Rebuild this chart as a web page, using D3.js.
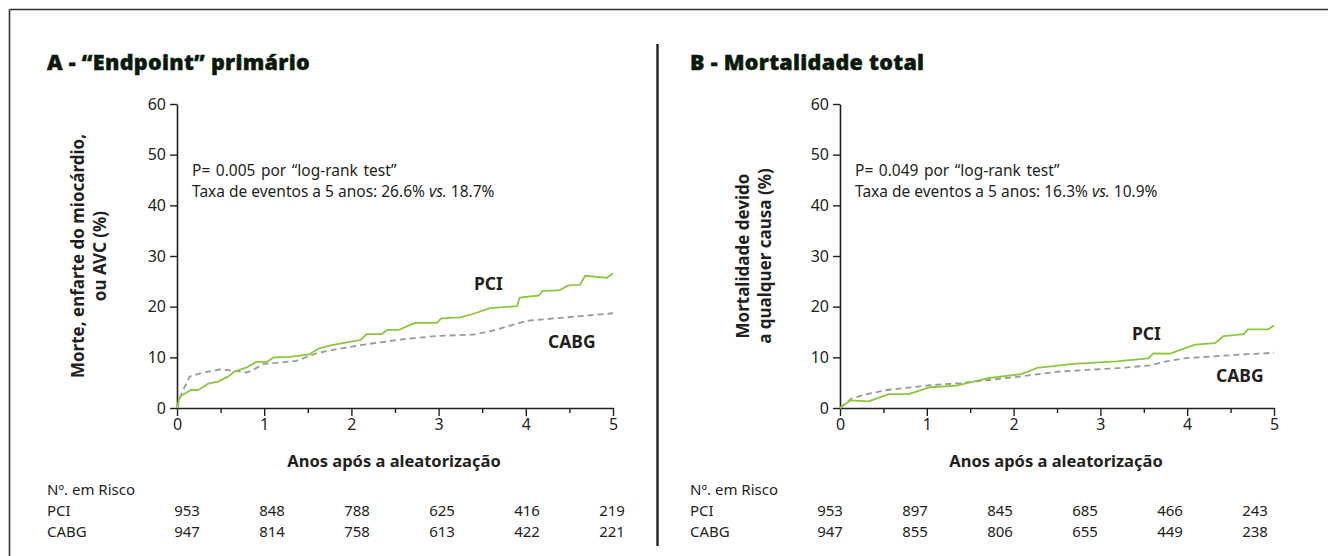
<!DOCTYPE html>
<html>
<head>
<meta charset="utf-8">
<script src="https://cdn.jsdelivr.net/npm/d3@7"></script>
<style>
  html, body { margin: 0; padding: 0; background: #fff; }
  svg { display: block; }
  .tick text { font-family: "Noto Sans", sans-serif; }
</style>
</head>
<body>
<svg id="chart" width="1328" height="556"></svg>
<script>
// Years after randomisation (x) and cumulative event rate in % (y)
const pciPrimaryYears  = [0, 0.03, 0.165, 0.24, 0.356, 0.47, 0.586, 0.66, 0.8, 0.91, 1.03, 1.11, 1.29, 1.52, 1.62, 1.75, 1.93, 2.10, 2.18, 2.35, 2.41, 2.54, 2.73, 2.98, 3.03, 3.25, 3.42, 3.59, 3.90, 3.93, 4.15, 4.19, 4.38, 4.49, 4.62, 4.68, 4.93, 5.0];
const pciPrimaryRate   = [0, 2.2, 3.6, 3.5, 4.8, 5.2, 6.2, 7.2, 8.0, 9.1, 9.1, 10.0, 10.1, 10.6, 11.7, 12.3, 12.9, 13.4, 14.6, 14.6, 15.4, 15.4, 16.8, 16.8, 17.7, 17.9, 18.7, 19.7, 20.1, 21.8, 22.2, 23.1, 23.2, 24.2, 24.3, 26.1, 25.7, 26.6];
const cabgPrimaryYears = [0, 0.05, 0.145, 0.3, 0.49, 0.64, 0.8, 0.87, 0.99, 1.14, 1.37, 1.6, 1.83, 2.14, 2.6, 2.98, 3.40, 3.63, 4.01, 4.47, 5.0];
const cabgPrimaryRate  = [0, 2.8, 6.2, 7.0, 7.6, 7.4, 7.0, 7.5, 8.7, 8.9, 9.3, 10.8, 11.6, 12.5, 13.6, 14.2, 14.5, 15.3, 17.2, 17.9, 18.7];

const pciDeathYears  = [0, 0.12, 0.33, 0.56, 0.79, 1.04, 1.34, 1.50, 1.71, 2.09, 2.27, 2.69, 3.19, 3.55, 3.61, 3.80, 4.09, 4.32, 4.42, 4.65, 4.70, 4.93, 5.0];
const pciDeathRate   = [0, 1.5, 1.3, 2.75, 2.75, 4.1, 4.4, 5.05, 5.9, 6.7, 7.9, 8.7, 9.2, 9.8, 10.8, 10.75, 12.5, 12.8, 14.2, 14.6, 15.5, 15.5, 16.3];
const cabgDeathYears = [0, 0.13, 0.31, 0.54, 1.04, 1.38, 2.07, 2.53, 3.23, 3.57, 3.76, 3.96, 4.57, 5.0];
const cabgDeathRate  = [0, 1.85, 2.75, 3.55, 4.5, 4.9, 6.2, 7.2, 7.9, 8.4, 9.2, 9.8, 10.5, 10.9];

// Numbers at risk at 0..5 years
const riskYears        = [0, 1, 2, 3, 4, 5];
const pciRiskPrimary   = [953, 848, 788, 625, 416, 219];
const cabgRiskPrimary  = [947, 814, 758, 613, 422, 221];
const pciRiskDeath     = [953, 897, 845, 685, 466, 243];
const cabgRiskDeath    = [947, 855, 806, 655, 449, 238];

const yTicks = [0, 10, 20, 30, 40, 50, 60];
const xTicks = [0, 1, 2, 3, 4, 5];
const xMinorTicks = [0.5, 1.5, 2.5, 3.5, 4.5];

const GREEN = "#8dc63f";
const GREY = "#9a9a9a";
const INK = "#231f20";
const TITLE = "#0a1a0a";
const FONT = "'Noto Sans', sans-serif";

const svg = d3.select("#chart");

// frame: top and left rules plus the divider between panels
svg.append("line").attr("x1", 9.5).attr("x2", 1328).attr("y1", 9.5).attr("y2", 9.5)
  .attr("stroke", "#333").attr("stroke-width", 1.6);
svg.append("line").attr("x1", 9.5).attr("x2", 9.5).attr("y1", 9.5).attr("y2", 556)
  .attr("stroke", "#333").attr("stroke-width", 1.6);
svg.append("line").attr("x1", 657.5).attr("x2", 657.5).attr("y1", 44).attr("y2", 546)
  .attr("stroke", "#222").attr("stroke-width", 2.4);

const panels = [
  {
    title: "A - \u201cEndpoint\u201d primário",
    left: 47, x0: 177, x1: 613,
    yLabel: ["Morte, enfarte do miocárdio,", "ou AVC (%)"], yLabelX: 84,
    note1: "P= 0.005 por \u201clog-rank test\u201d",
    note2a: "Taxa de eventos a 5 anos: 26.6% ", note2b: "18.7%",
    pci: [pciPrimaryYears, pciPrimaryRate], cabg: [cabgPrimaryYears, cabgPrimaryRate],
    pciLabel: [474, 290], cabgLabel: [548, 348],
    riskPci: pciRiskPrimary, riskCabg: cabgRiskPrimary
  },
  {
    title: "B - Mortalidade total",
    left: 690, x0: 840, x1: 1274,
    yLabel: ["Mortalidade devido", "a qualquer causa (%)"], yLabelX: 749,
    note1: "P= 0.049 por \u201clog-rank test\u201d",
    note2a: "Taxa de eventos a 5 anos: 16.3% ", note2b: "10.9%",
    pci: [pciDeathYears, pciDeathRate], cabg: [cabgDeathYears, cabgDeathRate],
    pciLabel: [1132, 340], cabgLabel: [1216, 382],
    riskPci: pciRiskDeath, riskCabg: cabgRiskDeath
  }
];

panels.forEach(p => {
  const g = svg.append("g");
  const x = d3.scaleLinear().domain([0, 5]).range([p.x0, p.x1]);
  const y = d3.scaleLinear().domain([0, 60]).range([408, 104]);

  // panel title
  g.append("text").attr("x", p.left).attr("y", 70)
    .attr("font-family", "'Open Sans', sans-serif").attr("font-weight", 800)
    .attr("font-size", 21.5).attr("letter-spacing", 0.3).attr("fill", TITLE)
    .attr("stroke", TITLE).attr("stroke-width", 0.45).attr("paint-order", "stroke")
    .text(p.title);

  // y axis
  const yAxis = g.append("g").attr("transform", `translate(${p.x0},0)`)
    .call(d3.axisLeft(y).tickValues(yTicks).tickSize(7).tickPadding(4).tickSizeOuter(0));
  // x axis with half-year minor ticks
  const xAxis = g.append("g").attr("transform", `translate(0,408)`)
    .call(d3.axisBottom(x).tickValues(xTicks).tickFormat(d3.format("d"))
      .tickSize(8).tickPadding(3).tickSizeOuter(0));
  g.append("g").attr("transform", `translate(0,408)`)
    .call(d3.axisBottom(x).tickValues(xMinorTicks).tickSize(5).tickFormat("").tickSizeOuter(0))
    .select(".domain").remove();

  [yAxis, xAxis].forEach(a => {
    a.select(".domain").attr("stroke", INK).attr("stroke-width", 1.6);
    a.selectAll(".tick text").attr("font-size", 16).attr("fill", INK);
  });
  g.selectAll(".tick line").attr("stroke", INK).attr("stroke-width", 1.4);

  // y axis title, two lines rotated
  const yl = g.append("text")
    .attr("transform", `translate(${p.yLabelX},256) rotate(-90)`)
    .attr("text-anchor", "middle").attr("font-family", FONT).attr("font-weight", 700)
    .attr("font-size", 17).attr("fill", INK);
  p.yLabel.forEach((t, i) => yl.append("tspan").attr("x", 0).attr("dy", i === 0 ? 0 : 22).text(t));

  // x axis title
  g.append("text").attr("x", (p.x0 + p.x1) / 2 - 1).attr("y", 467)
    .attr("text-anchor", "middle").attr("font-family", FONT).attr("font-weight", 700)
    .attr("font-size", 16.5).attr("fill", INK).text("Anos após a aleatorização");

  // annotation
  g.append("text").attr("x", p.x0 + 15).attr("y", 176)
    .attr("font-family", FONT).attr("font-size", 15.5).attr("word-spacing", 1.5)
    .attr("fill", INK).text(p.note1);
  const n2 = g.append("text").attr("x", p.x0 + 15).attr("y", 197)
    .attr("font-family", FONT).attr("font-size", 15.5).attr("fill", INK);
  n2.append("tspan").text(p.note2a);
  n2.append("tspan").attr("font-style", "italic").text("vs.");
  n2.append("tspan").text(" " + p.note2b);

  // curves
  const line = d3.line().x(d => x(d[0])).y(d => y(d[1]));
  const cabgPts = p.cabg[0].map((t, i) => [t, p.cabg[1][i]]);
  const pciPts = p.pci[0].map((t, i) => [t, p.pci[1][i]]);
  g.append("path").attr("d", line(cabgPts)).attr("fill", "none")
    .attr("stroke", GREY).attr("stroke-width", 1.8).attr("stroke-dasharray", "6,4");
  g.append("path").attr("d", line(pciPts)).attr("fill", "none")
    .attr("stroke", GREEN).attr("stroke-width", 1.8).attr("stroke-linejoin", "round");

  // series labels
  g.append("text").attr("x", p.pciLabel[0]).attr("y", p.pciLabel[1])
    .attr("font-family", FONT).attr("font-weight", 700).attr("font-size", 17.5).attr("fill", INK).text("PCI");
  g.append("text").attr("x", p.cabgLabel[0]).attr("y", p.cabgLabel[1])
    .attr("font-family", FONT).attr("font-weight", 700).attr("font-size", 17.5).attr("fill", INK).text("CABG");

  // number-at-risk table
  const col = d3.scaleLinear().domain([0, 5]).range([p.left + 140, p.left + 565]);
  const rows = [["Nº. em Risco", null, 495], ["PCI", p.riskPci, 516], ["CABG", p.riskCabg, 537]];
  rows.forEach(([label, vals, yy]) => {
    g.append("text").attr("x", p.left).attr("y", yy)
      .attr("font-family", FONT).attr("font-size", 15).attr("fill", INK).text(label);
    if (vals) {
      g.selectAll(null).data(riskYears).enter().append("text")
        .attr("x", d => col(d)).attr("y", yy).attr("text-anchor", "middle")
        .attr("font-family", FONT).attr("font-size", 15).attr("fill", INK)
        .text((d, i) => vals[i]);
    }
  });
});
</script>
</body>
</html>
